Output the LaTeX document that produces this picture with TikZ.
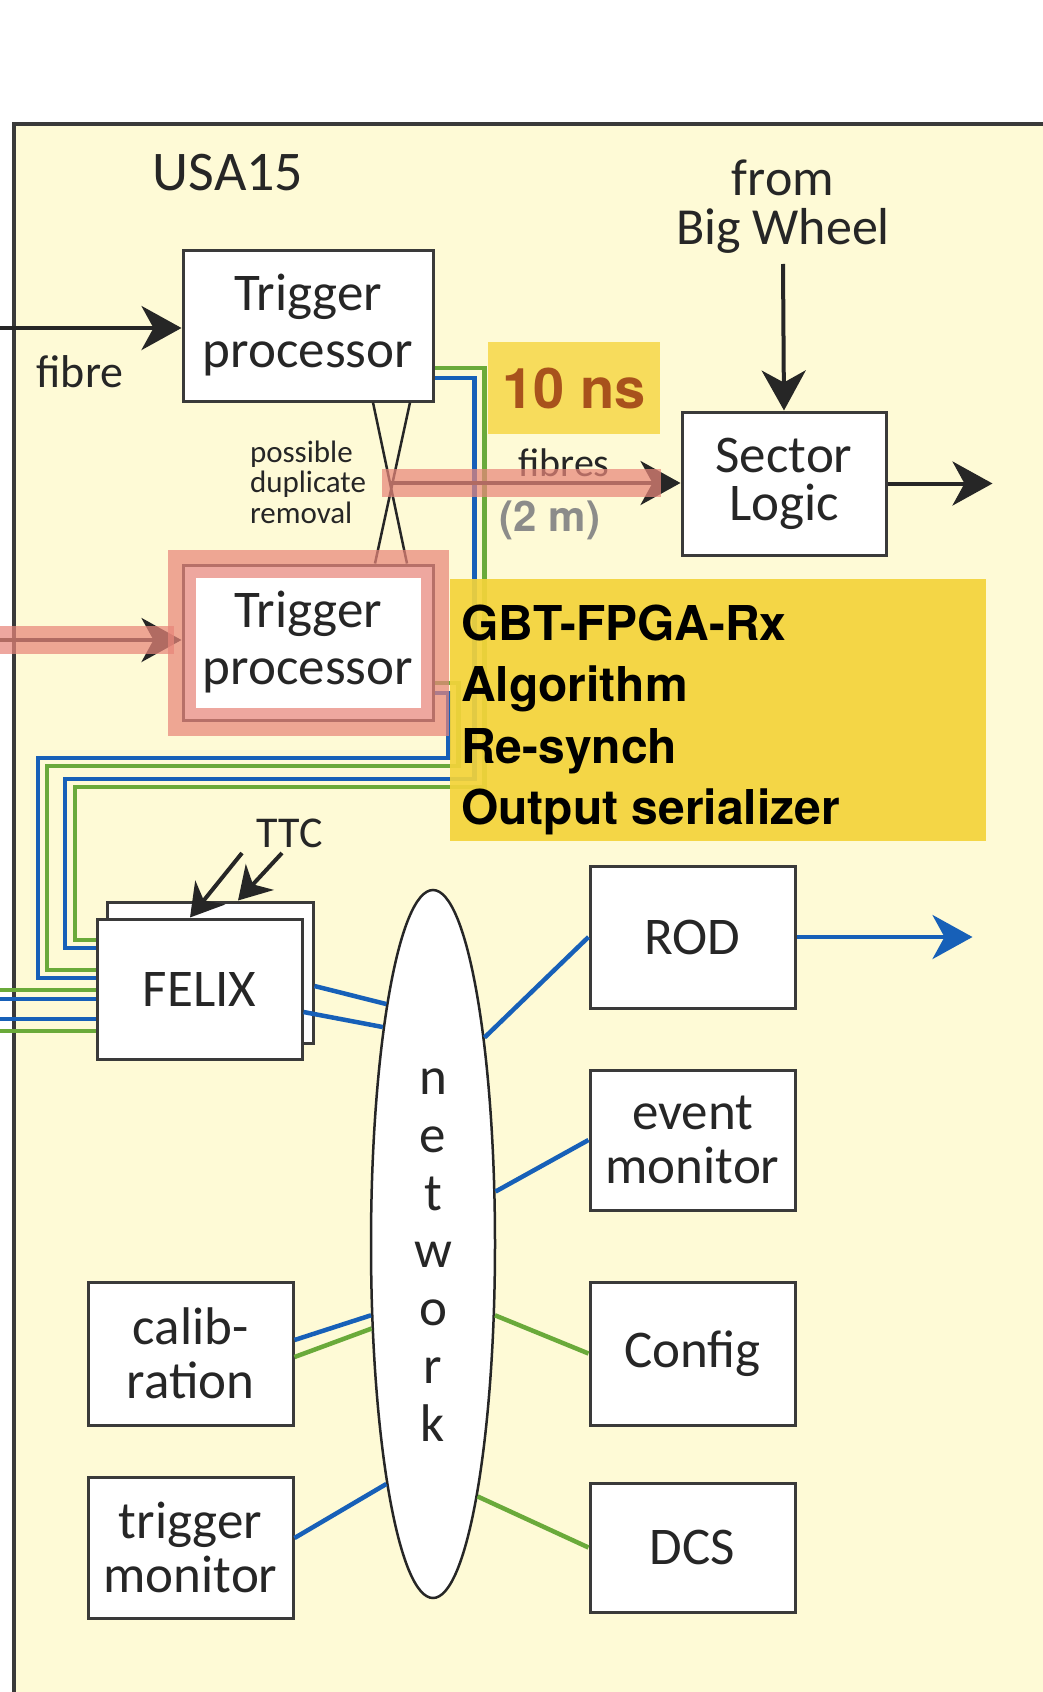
\documentclass[tikz,border=0pt]{standalone}
\usepackage{fontspec}
\setmainfont{Carlito}
\newfontfamily\heros{TeX Gyre Heros}
\usepackage{tikz}
\usetikzlibrary{arrows.meta,calc,positioning,shapes.geometric}
\usepackage{xcolor}
\definecolor{paper}{HTML}{FEFAD6}
\definecolor{frameline}{HTML}{3A3A3A}
\definecolor{ink}{HTML}{262626}
\definecolor{fibreblue}{HTML}{1760B8}
\definecolor{fibregreen}{HTML}{6AAA3A}
\definecolor{marker}{HTML}{E8867A}
\definecolor{notebg}{HTML}{F4D43A}
\definecolor{latbg}{HTML}{F7DC5C}
\definecolor{latency}{HTML}{A8521C}
\definecolor{cablegray}{HTML}{8C8C8A}

\begin{document}
\begin{tikzpicture}[>={Stealth[length=40pt,width=44pt,inset=12pt]},x=1pt,y=-1pt,
  blk/.style={draw=frameline,line width=3pt,fill=white,inner sep=0pt,align=center,text=ink,font=\fontsize{53}{54}\selectfont},
  lbl/.style={inner sep=0pt,align=center,text=ink},
  arr/.style={->,line width=4pt,ink},
  ttcarr/.style={-{Stealth[length=32pt,width=38pt,inset=10pt]},line width=4pt,ink},
  bl/.style={fibreblue,line width=4.5pt},
  gr/.style={fibregreen,line width=4.5pt},
  hl/.style={marker,opacity=0.72,line width=28pt}]
  \useasboundingbox (0,0) rectangle (1043,1692);
  \fill[white] (0,0) rectangle (1043,1692);
  \fill[paper] (14,124) rectangle (1043,1692);
  \draw[frameline,line width=4pt] (14,1692) |- (1043,124);

  \node[blk,minimum width=250pt,minimum height=151pt,font=\fontsize{53}{57}\selectfont] (tp1) at (308,325.5) {Trigger\\processor};
  \node[blk,minimum width=250pt,minimum height=155pt,font=\fontsize{53}{57}\selectfont] (tp2) at (308,642.5) {Trigger\\processor};
  \node[blk,minimum width=204pt,minimum height=143pt,font=\fontsize{53}{48}\selectfont] (sl) at (784,483.5) {Sector\\Logic};
  \node[blk,minimum width=206pt,minimum height=141pt] (felixb) at (210,972.5) {};
  \node[blk,minimum width=205pt,minimum height=140pt] (felix) at (199.5,989) {FELIX};
  \node[blk,minimum width=205pt,minimum height=142pt] (rod) at (692.5,937) {ROD};
  \node[blk,minimum width=205pt,minimum height=140pt] (evm) at (692.5,1140) {event\\monitor};
  \node[blk,minimum width=205pt,minimum height=143pt] (cfg) at (692.5,1353.5) {Config};
  \node[blk,minimum width=205pt,minimum height=129pt] (dcs) at (692.5,1547.5) {DCS};
  \node[blk,minimum width=205pt,minimum height=143pt] (cal) at (190.5,1353.5) {calib-\\ration};
  \node[blk,minimum width=205pt,minimum height=141pt] (tmon) at (190.5,1547.5) {trigger\\monitor};
  \node[draw=ink,ellipse,line width=2.5pt,fill=white,inner sep=0pt,minimum width=124pt,minimum height=708pt] (net) at (433,1244) {};
  \node[lbl,font=\fontsize{53}{57.8}\selectfont] (netname) at (433,1255) {n\\e\\t\\w\\o\\r\\k};

  \node[lbl,font=\fontsize{56}{56}\selectfont] (site) at (228,173) {USA15};
  \node[lbl,font=\fontsize{46}{46}\selectfont] (fib) at (80,372) {fibre};
  \node[lbl,font=\fontsize{52}{49}\selectfont] (bw) at (783,207) {from\\Big Wheel};
  \node[lbl,align=left,font=\fontsize{31}{30.5}\selectfont] (dup) at (308,482) {possible\\duplicate\\removal};
  \node[lbl,font=\fontsize{40}{40}\selectfont] (fibs) at (564,463) {fibres};
  \node[lbl,text=cablegray,font=\heros\bfseries\fontsize{42}{42}\selectfont] (len) at (550,520) {(2 m)};
  \node[lbl,font=\fontsize{44}{44}\selectfont] (ttc) at (290,833) {TTC};

  \coordinate (in1) at (0,328);
  \coordinate (in2) at (0,640);
  \coordinate (cross) at (390,483);
  \coordinate (t1) at (242,853);
  \coordinate (t2) at (282,853);

  \draw[bl] ([yshift=-52.5pt]tp1.east) -- ++(40,0) |- (65,779) |- ([yshift=41pt]felix.west);
  \draw[gr] ([yshift=-42.5pt]tp1.east) -- ++(50,0) |- (75,787) |- ([yshift=49pt]felix.west);
  \draw[bl] ([yshift=-50.5pt]tp2.east) -- ++(14,0) |- (38,758) |- ([yshift=11pt]felix.west);
  \draw[gr] ([yshift=-40.5pt]tp2.east) -- ++(24,0) |- (47,766) |- ([yshift=19pt]felix.west);
  \draw[gr] ([yshift=-1pt]felix.west) -- ++(-97,0);
  \draw[bl] ([yshift=-10pt]felix.west) -- ++(-97,0);
  \draw[bl] ([yshift=-30pt]felix.west) -- ++(-97,0);
  \draw[gr] ([yshift=-42pt]felix.west) -- ++(-97,0);

  \draw[bl] ([yshift=-13.5pt]felixb.east) -- (net.101.4);
  \draw[bl] ([yshift=-23pt]felix.east) -- (net.103.7);
  \draw[bl] (net.76.8) -- (rod.west);
  \draw[bl] (net.40.3) -- (evm.west);
  \draw[bl] ([yshift=13.5pt]cal.east) -- (net.229.5);
  \draw[gr] ([yshift=-3.5pt]cal.east) -- (net.234.4);
  \draw[bl] ([yshift=9.5pt]tmon.east) -- (net.259.6);
  \draw[gr] (net.311.8) -- (cfg.west);
  \draw[gr] (net.280.1) -- (dcs.west);
  \draw[arr,fibreblue] (rod.east) -- ++(176,0);

  \draw[ink,line width=2.5pt] ([xshift=65pt]tp1.south) -- ([xshift=99pt]tp2.north);
  \draw[ink,line width=2.5pt] ([xshift=102pt]tp1.south) -- ([xshift=67pt]tp2.north);
  \draw[arr] (in1) -- (in1 -| tp1.west);
  \draw[arr] (in2) -- (in2 -| tp2.west);
  \draw[arr] (cross) -- (cross -| sl.west);
  \draw[arr] ([yshift=-10pt]bw.south) -- (sl.north);
  \draw[arr] (sl.east) -- ++(105,0);
  \draw[ttcarr] (t1) -- ([xshift=-9.5pt]felix.north);
  \draw[ttcarr] (t2) -- ([xshift=28pt]felixb.north);

  \draw[hl] (in2) -- ([xshift=-8pt]in2 -| tp2.west);
  \draw[hl] (tp2.north west) rectangle (tp2.south east);
  \draw[hl] ([xshift=-8pt]cross) -- ([xshift=-20pt]cross -| sl.west);

  \node[fill=latbg,minimum width=172pt,minimum height=92pt,inner sep=0pt,text=latency,font=\heros\bfseries\fontsize{56}{56}\selectfont] (lat) at (574,388) {10 ns};
  \node[fill=notebg,fill opacity=0.92,minimum width=536pt,minimum height=262pt,inner sep=0pt] (note) at (718,710) {};
  \node[lbl,anchor=west,align=left,text=black,font=\heros\bfseries\fontsize{48}{61.3}\selectfont] (notetext) at (461,720) {GBT-FPGA-Rx\\Algorithm\\Re-synch\\Output serializer};
\end{tikzpicture}
\end{document}
